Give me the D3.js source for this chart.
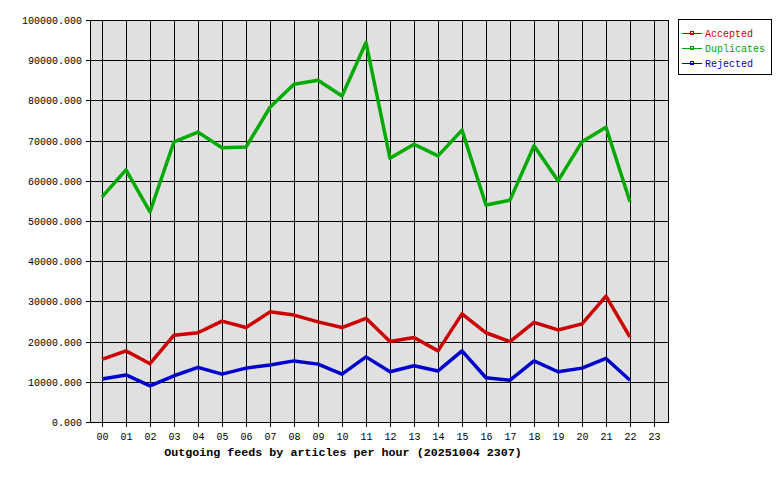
<!DOCTYPE html>
<html>
<head>
<meta charset="utf-8">
<script src="https://cdn.jsdelivr.net/npm/d3@7"></script>
<style>
  body { margin: 0; background: #fff; }
  text { font-family: "Liberation Mono", "DejaVu Sans Mono", monospace; }
</style>
</head>
<body>
<div id="chart-area"></div>
<script>
// hours on the x axis
var hours = ["00","01","02","03","04","05","06","07","08","09","10","11",
             "12","13","14","15","16","17","18","19","20","21","22","23"];

// series values, hours 00..22
var accepted   = [15600, 17700, 14500, 21600, 22200, 25100, 23500, 27400, 26600, 24900, 23500, 25800,
                  20000, 21000, 17700, 26900, 22200, 20000, 24800, 22900, 24400, 31300, 21100];
var duplicates = [56000, 62700, 52300, 69700, 72100, 68200, 68400, 78300, 84000, 85000, 81100, 94400,
                  65600, 69100, 66200, 72600, 54000, 55200, 68700, 60000, 69700, 73300, 54800];
var rejected   = [10700, 11700, 9000, 11500, 13600, 11900, 13400, 14200, 15200, 14400, 11900, 16200,
                  12500, 14000, 12700, 17700, 11000, 10400, 15200, 12500, 13400, 15800, 10400];

var yTicks = [0, 10000, 20000, 30000, 40000, 50000, 60000, 70000, 80000, 90000, 100000];

var series = [
    { name: "Accepted",   values: accepted,   color: "#cc0000" },
    { name: "Duplicates", values: duplicates, color: "#00aa00" },
    { name: "Rejected",   values: rejected,   color: "#0000cc" }
];

var W = 780, H = 480;
var plot = { left: 90, top: 20, right: 668, bottom: 422 };

var svg = d3.select("#chart-area")
    .append("svg")
    .attr("width", W)
    .attr("height", H);

// Scales
var x = d3.scalePoint().domain(hours).range([102, 654]);
var y = d3.scaleLinear().domain([0, 100000]).range([plot.bottom, plot.top]);

// Plot background
svg.append("rect")
    .attr("x", plot.left + 0.5)
    .attr("y", plot.top + 0.5)
    .attr("width", plot.right - plot.left)
    .attr("height", plot.bottom - plot.top)
    .attr("fill", "#e0e0e0");

// Grid
var grid = svg.append("g").attr("stroke", "#000").attr("stroke-width", 1);
grid.selectAll(".vg").data(hours).enter().append("line")
    .attr("x1", function(d){ return Math.round(x(d)) + 0.5; })
    .attr("x2", function(d){ return Math.round(x(d)) + 0.5; })
    .attr("y1", plot.top)
    .attr("y2", plot.bottom + 5);
grid.selectAll(".hg").data(yTicks).enter().append("line")
    .attr("x1", plot.left - 4)
    .attr("x2", plot.right)
    .attr("y1", function(d){ return Math.round(y(d)) + 0.5; })
    .attr("y2", function(d){ return Math.round(y(d)) + 0.5; });

// Border
svg.append("rect")
    .attr("x", plot.left + 0.5)
    .attr("y", plot.top + 0.5)
    .attr("width", plot.right - plot.left)
    .attr("height", plot.bottom - plot.top)
    .attr("fill", "none")
    .attr("stroke", "#000");

// Y labels
svg.selectAll(".yl").data(yTicks).enter().append("text")
    .attr("x", 82)
    .attr("y", function(d){ return y(d) + 4; })
    .attr("text-anchor", "end")
    .attr("font-size", "10px")
    .attr("fill", "#000")
    .text(function(d){ return d3.format(".3f")(d); });

// X labels
svg.selectAll(".xl").data(hours).enter().append("text")
    .attr("x", function(d){ return x(d) + 0.5; })
    .attr("y", 440)
    .attr("text-anchor", "middle")
    .attr("font-size", "10px")
    .attr("fill", "#000")
    .text(function(d){ return d; });

// Title
svg.append("text")
    .attr("x", 343)
    .attr("y", 456)
    .attr("text-anchor", "middle")
    .attr("font-size", "11.7px")
    .attr("font-weight", "bold")
    .attr("fill", "#000")
    .text("Outgoing feeds by articles per hour (20251004 2307)");

// Lines
var line = d3.line()
    .x(function(d, i){ return x(hours[i]); })
    .y(function(d){ return y(d); });

svg.selectAll(".series").data(series).enter().append("path")
    .attr("fill", "none")
    .attr("stroke", function(d){ return d.color; })
    .attr("stroke-width", 3.5)
    .attr("stroke-linejoin", "round")
    .attr("d", function(d){ return line(d.values); });

// Legend
var lg = svg.append("g");
lg.append("rect")
    .attr("x", 678.5).attr("y", 19.5)
    .attr("width", 93).attr("height", 55)
    .attr("fill", "#fff").attr("stroke", "#000");
var items = lg.selectAll(".li").data(series).enter().append("g")
    .attr("transform", function(d, i){ return "translate(0," + (33 + i * 15) + ")"; });
items.append("line")
    .attr("x1", 682).attr("x2", 702)
    .attr("y1", 0.5).attr("y2", 0.5)
    .attr("stroke", function(d){ return d.color; });
items.append("rect")
    .attr("x", 690.5).attr("y", -1.5)
    .attr("width", 3).attr("height", 3)
    .attr("fill", "none")
    .attr("stroke", function(d){ return d.color; });
items.append("text")
    .attr("x", 705)
    .attr("y", 4)
    .attr("font-size", "10px")
    .attr("fill", function(d){ return d.color; })
    .text(function(d){ return d.name; });
</script>
</body>
</html>
